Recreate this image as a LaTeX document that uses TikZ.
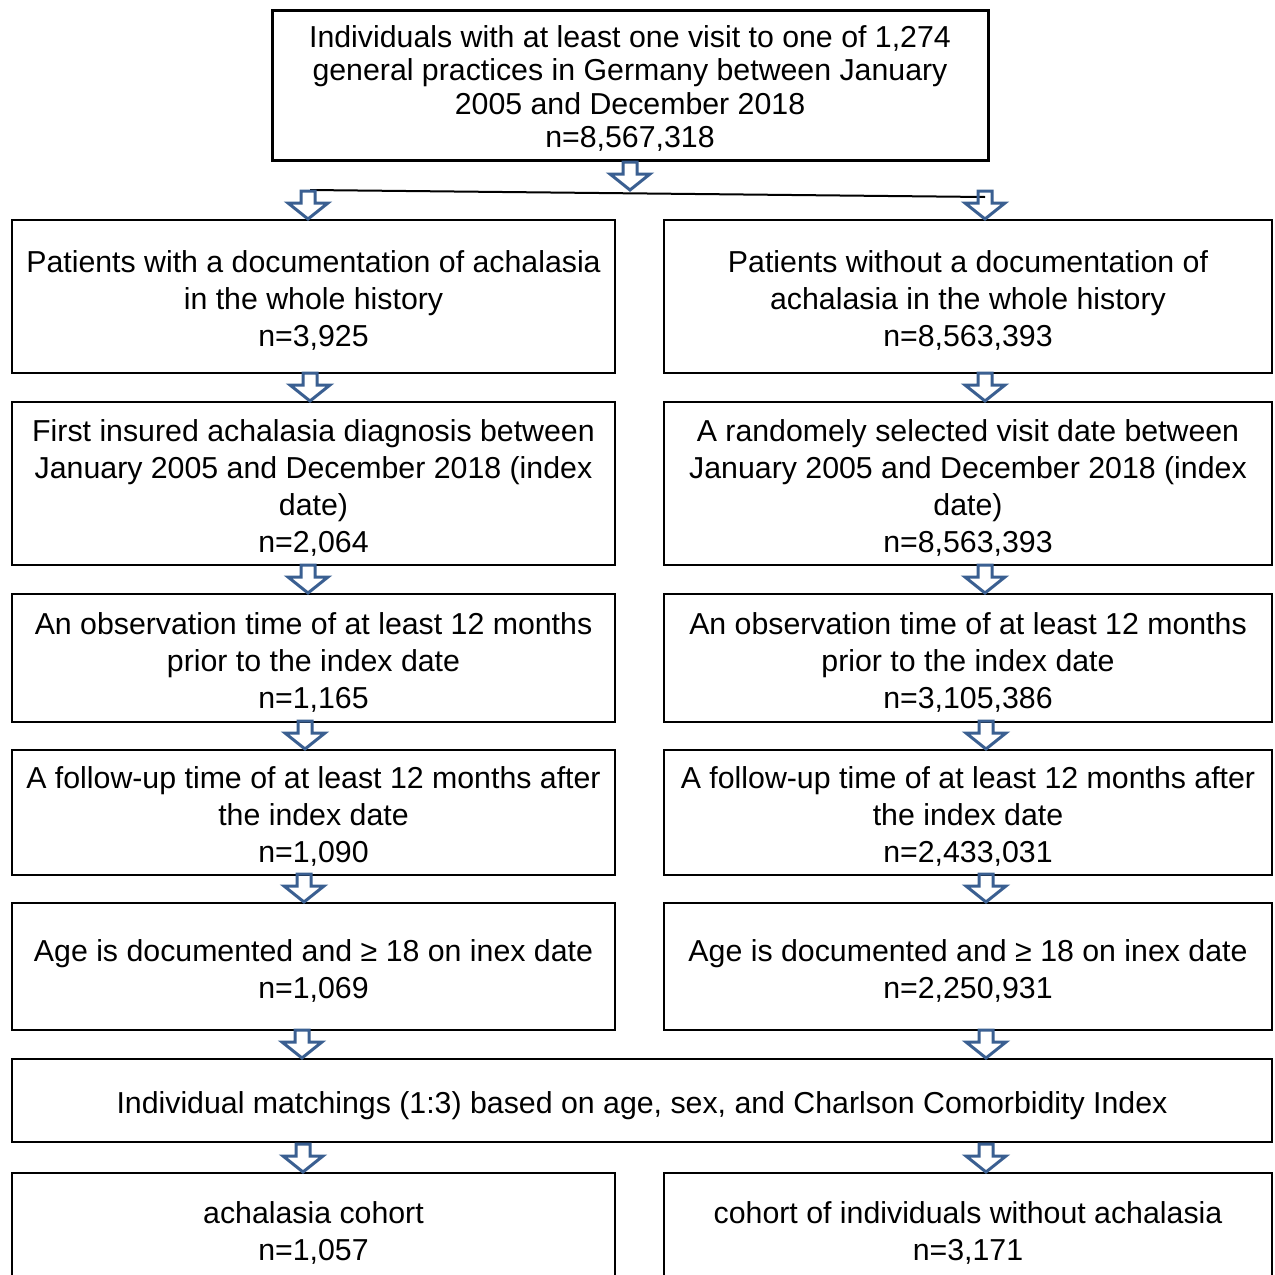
\documentclass[tikz,border=0pt]{standalone}
\usepackage{fontspec}
\setmainfont{Liberation Sans}
\usetikzlibrary{calc}
\definecolor{arrowblue}{RGB}{58,95,145}

% stacked, centred lines of a box (extra room on top moves them down)
\newcommand{\boxlines}[1]{\raisebox{0pt}[\dimexpr\height+12pt\relax][\depth]{\begin{tabular}{@{}c@{}}#1\end{tabular}}}

\tikzset{
  box/.style={draw, line width=2pt, inner sep=0pt,
    font=\fontsize{30.3}{37}\selectfont},
  leftbox/.style={box, minimum width=603pt},
  rightbox/.style={box, minimum width=608pt},
  hollowdown/.pic={
    \draw[arrowblue, line width=3pt, line join=miter]
      (-7,-28) -- (7,-28) -- (7,-16) -- (20,-16) -- (0,0)
      -- (-20,-16) -- (-7,-16) -- cycle;
  }
}

\begin{document}
\begin{tikzpicture}[x=1pt,y=-1pt]
  \useasboundingbox (0,0) rectangle (1275,1275);

  % source population
  \node[box, line width=3pt, minimum width=716pt, minimum height=150pt,
    font=\fontsize{30.3}{33.5}\selectfont] (top) at (630,85)
    {\boxlines{Individuals with at least one visit to one of 1,274\\
     general practices in Germany between January\\
     2005 and December 2018\\ n=8,567,318}};

  % achalasia side
  \node[leftbox, minimum height=153pt] (l1) at (313.5,296.5)
    {\boxlines{Patients with a documentation of achalasia\\ in the whole history\\ n=3,925}};
  \node[leftbox, minimum height=163pt] (l2) at (313.5,483.5)
    {\boxlines{First insured achalasia diagnosis between\\ January 2005 and December 2018 (index\\ date)\\ n=2,064}};
  \node[leftbox, minimum height=128pt] (l3) at (313.5,658)
    {\boxlines{An observation time of at least 12 months\\ prior to the index date\\ n=1,165}};
  \node[leftbox, minimum height=125pt] (l4) at (313.5,812.5)
    {\boxlines{A follow-up time of at least 12 months after\\ the index date\\ n=1,090}};
  \node[leftbox, minimum height=127pt] (l5) at (313.5,966.5)
    {\boxlines{Age is documented and ≥ 18 on inex date\\ n=1,069}};

  % non-achalasia side
  \node[rightbox, minimum height=153pt] (r1) at (968,296.5)
    {\boxlines{Patients without a documentation of\\ achalasia in the whole history\\ n=8,563,393}};
  \node[rightbox, minimum height=163pt] (r2) at (968,483.5)
    {\boxlines{A randomely selected visit date between\\ January 2005 and December 2018 (index\\ date)\\ n=8,563,393}};
  \node[rightbox, minimum height=128pt] (r3) at (968,658)
    {\boxlines{An observation time of at least 12 months\\ prior to the index date\\ n=3,105,386}};
  \node[rightbox, minimum height=125pt] (r4) at (968,812.5)
    {\boxlines{A follow-up time of at least 12 months after\\ the index date\\ n=2,433,031}};
  \node[rightbox, minimum height=127pt] (r5) at (968,966.5)
    {\boxlines{Age is documented and ≥ 18 on inex date\\ n=2,250,931}};

  % matching and cohorts
  \node[box, minimum width=1260pt, minimum height=83pt] (match) at (642,1100.5)
    {\boxlines{Individual matchings (1:3) based on age, sex, and Charlson Comorbidity Index}};
  \node[leftbox, minimum height=112pt] (lc) at (313.5,1229)
    {\boxlines{achalasia cohort\\ n=1,057}};
  \node[rightbox, minimum height=112pt] (rc) at (968,1229)
    {\boxlines{cohort of individuals without achalasia\\ n=3,171}};

  % split line below the source box
  \coordinate (sl) at (310,190);
  \coordinate (sr) at (985,197);
  \draw[line width=2pt] (sl) -- (sr);

  \pic at (630,190) {hollowdown};
  \pic at ([xshift=-5.5pt]l1.north) {hollowdown};
  \pic at ([xshift=17pt]r1.north) {hollowdown};

  \pic at ([xshift=-3.5pt]l2.north) {hollowdown};
  \pic at ([xshift=-5.5pt]l3.north) {hollowdown};
  \pic at ([xshift=-8.5pt]l4.north) {hollowdown};
  \pic at ([xshift=-9.5pt]l5.north) {hollowdown};
  \pic at (302,1058) {hollowdown};
  \pic at ([xshift=-10.5pt]lc.north) {hollowdown};

  \pic at ([xshift=17pt]r2.north) {hollowdown};
  \pic at ([xshift=17pt]r3.north) {hollowdown};
  \pic at ([xshift=18pt]r4.north) {hollowdown};
  \pic at ([xshift=18pt]r5.north) {hollowdown};
  \pic at (986,1058) {hollowdown};
  \pic at ([xshift=18pt]rc.north) {hollowdown};
\end{tikzpicture}
\end{document}
